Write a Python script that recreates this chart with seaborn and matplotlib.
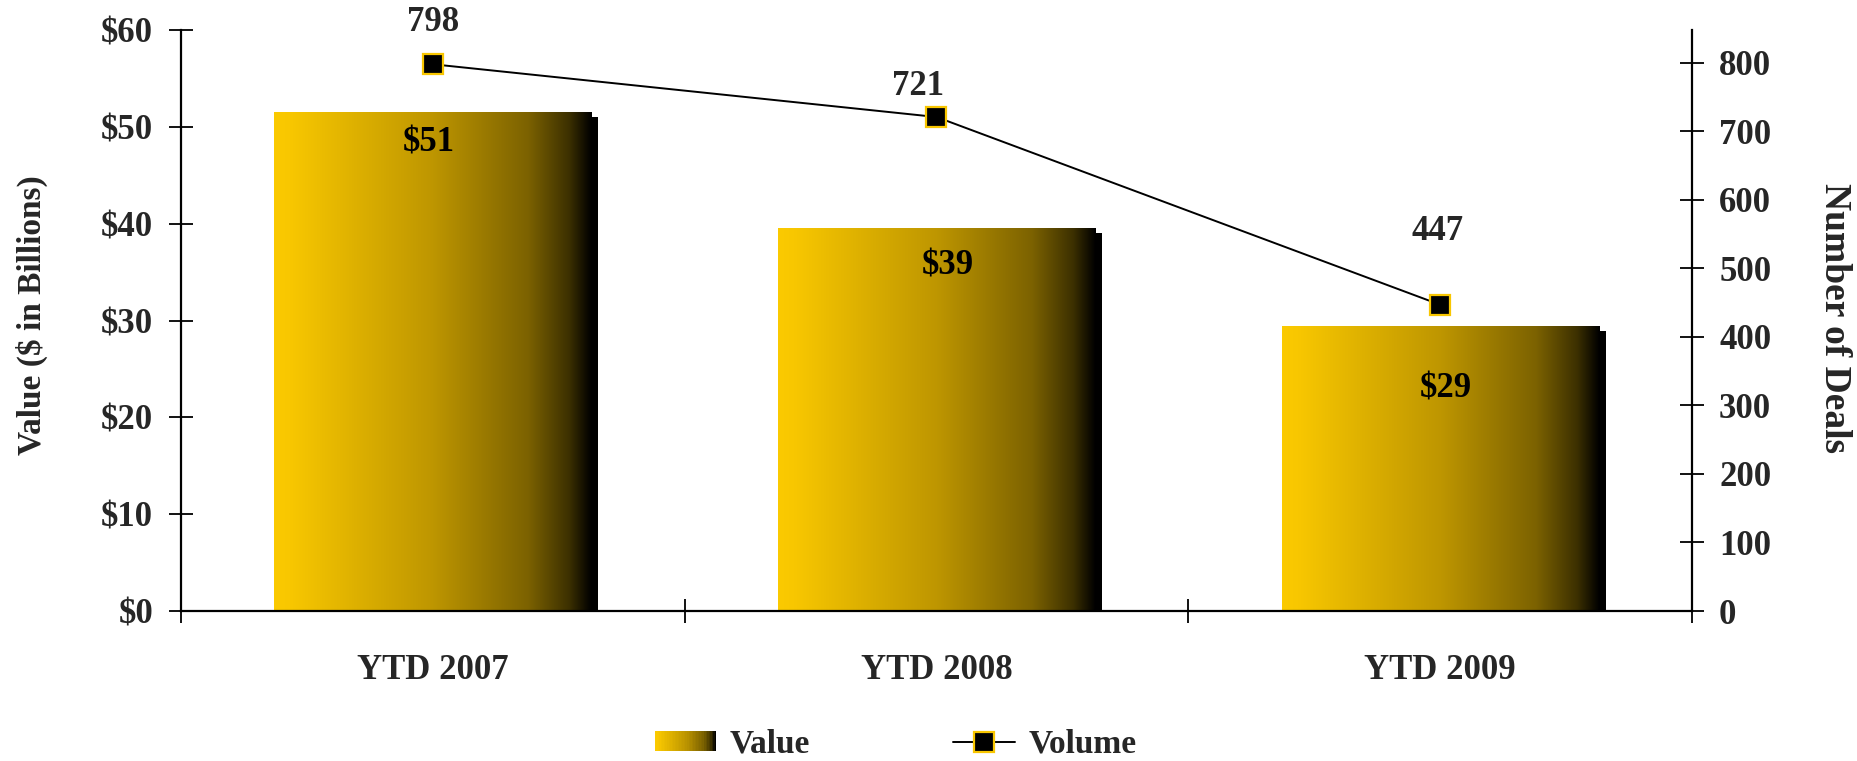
import numpy as np
import pandas as pd
import matplotlib
matplotlib.use("Agg")
import matplotlib.pyplot as plt
import matplotlib.patheffects as pe
from matplotlib.colors import LinearSegmentedColormap
from matplotlib.legend_handler import HandlerBase
from matplotlib.lines import Line2D
from matplotlib.patches import Rectangle
import seaborn as sns

categories = ["YTD 2007", "YTD 2008", "YTD 2009"]
value_bn = [51.5, 39.6, 29.4]
value_labels = ["$51", "$39", "$29"]
deals = [798, 721, 447]

left_ticks = [0, 10, 20, 30, 40, 50, 60]
right_ticks = [0, 100, 200, 300, 400, 500, 600, 700, 800]

# label offsets (points) as placed in the original chart
value_label_offsets = [(-3, -22), (8, -28), (4, -45)]
deal_label_offsets = [(0, 30), (-13, 22), (-2, 53)]

GOLD = "#F8C600"
gold_black = LinearSegmentedColormap.from_list(
    "gold_black",
    [(0.0, "#FBCA00"), (0.05, "#F8C700"), (0.5, "#BE9600"),
     (0.8, "#7C6200"), (0.93, "#3C3000"), (1.0, "#000000")],
)

sns.set_style("white")
plt.rcParams["font.family"] = ["Liberation Serif", "DejaVu Serif"]
plt.rcParams["font.weight"] = "bold"
plt.rcParams["axes.labelweight"] = "bold"
plt.rcParams["text.parse_math"] = False

df = pd.DataFrame({"period": categories, "value": value_bn, "deals": deals})

fig = plt.figure(figsize=(18.58, 7.61), dpi=100)
ax = fig.add_axes([181 / 1858, 1 - 611 / 761, (1692 - 181) / 1858, (611 - 30) / 761])

sns.barplot(data=df, x="period", y="value", ax=ax, color=GOLD, width=0.63,
            saturation=1, edgecolor="none", linewidth=0, zorder=2)

# gradient fill + drop shadow for each bar
for patch in ax.patches:
    x0, y0 = patch.get_x(), patch.get_y()
    w, h = patch.get_width(), patch.get_height()
    patch.set_path_effects([
        pe.SimplePatchShadow(offset=(5, -3.6), shadow_rgbFace="black", alpha=1.0),
        pe.Normal(),
    ])
    grad = np.linspace(0, 1, 256).reshape(1, -1)
    img = ax.imshow(grad, extent=[x0, x0 + w, y0, y0 + h], aspect="auto",
                    cmap=gold_black, zorder=2.5, interpolation="bilinear")
    img.set_clip_path(patch)

for i, (v, lab) in enumerate(zip(value_bn, value_labels)):
    ax.annotate(lab, (i, v), xytext=value_label_offsets[i], textcoords="offset points",
                ha="center", va="center", fontsize=25, fontweight="bold",
                color="black", zorder=4)

ax2 = ax.twinx()
sns.lineplot(data=df, x="period", y="deals", ax=ax2, color="black", linewidth=1.4,
             marker="s", markersize=14, markerfacecolor="black",
             markeredgecolor=GOLD, markeredgewidth=1.6, legend=False, sort=False)
for i, d in enumerate(deals):
    ax2.annotate(str(d), (i, d), xytext=deal_label_offsets[i], textcoords="offset points",
                 ha="center", va="center", fontsize=25, fontweight="bold")

ax.set_xlim(-0.5, 2.5)
ax.set_ylim(0, 60)
ax2.set_ylim(0, 848)

ax.set_yticks(left_ticks)
ax.set_yticklabels([f"${t}" for t in left_ticks])
ax2.set_yticks(right_ticks)
ax2.set_yticklabels([str(t) for t in right_ticks])

ax.set_xticks([0, 1, 2])
ax.set_xticklabels(categories)
ax.set_xticks([-0.5, 0.5, 1.5, 2.5], minor=True)
ax.tick_params(axis="x", which="major", length=0, pad=31, labelsize=25)
ax.tick_params(axis="x", which="minor", direction="inout", length=17, width=1.3,
               color="black", bottom=True)
ax.tick_params(axis="y", direction="inout", length=17, width=1.3, color="black",
               pad=11.5, labelsize=25, left=True)
ax2.tick_params(axis="y", direction="inout", length=17, width=1.3, color="black",
                pad=11, labelsize=25, right=True)

for a in (ax, ax2):
    for s in a.spines.values():
        s.set_visible(False)
ax.spines["left"].set_visible(True)
ax.spines["bottom"].set_visible(True)
ax2.spines["right"].set_visible(True)
for s in (ax.spines["left"], ax.spines["bottom"], ax2.spines["right"]):
    s.set_color("black")
    s.set_linewidth(1.6)

ax.set_xlabel("")
ax.set_ylabel("Value ($ in Billions)", fontsize=24, fontweight="bold")
ax.yaxis.set_label_coords(-0.088, 0.51)
ax2.set_ylabel("Number of Deals", fontsize=27, fontweight="bold", rotation=270,
               va="center")
ax2.yaxis.set_label_coords(1.094, 0.505)


class GradientHandler(HandlerBase):
    def create_artists(self, legend, orig_handle, xdescent, ydescent, width,
                       height, fontsize, trans):
        n = 40
        parts = []
        for k in range(n):
            parts.append(Rectangle((-xdescent + k * width / n, -ydescent),
                                   width / n * 1.08, height,
                                   facecolor=gold_black(k / (n - 1)),
                                   edgecolor="none", transform=trans))
        return parts


value_handle = Rectangle((0, 0), 1, 1)
volume_handle = Line2D([], [], color="black", linewidth=1.4, marker="s",
                       markersize=14, markerfacecolor="black",
                       markeredgecolor=GOLD, markeredgewidth=1.6)
fig.legend([value_handle, volume_handle], ["Value", "Volume"],
           handler_map={Rectangle: GradientHandler()},
           loc="center", bbox_to_anchor=(0.482, 0.022), ncol=2, frameon=False,
           fontsize=24, handlelength=1.85, handleheight=0.55, handletextpad=0.4,
           columnspacing=4.3, numpoints=1, borderpad=0)

fig.savefig("out.png", dpi=100)
plt.close(fig)
